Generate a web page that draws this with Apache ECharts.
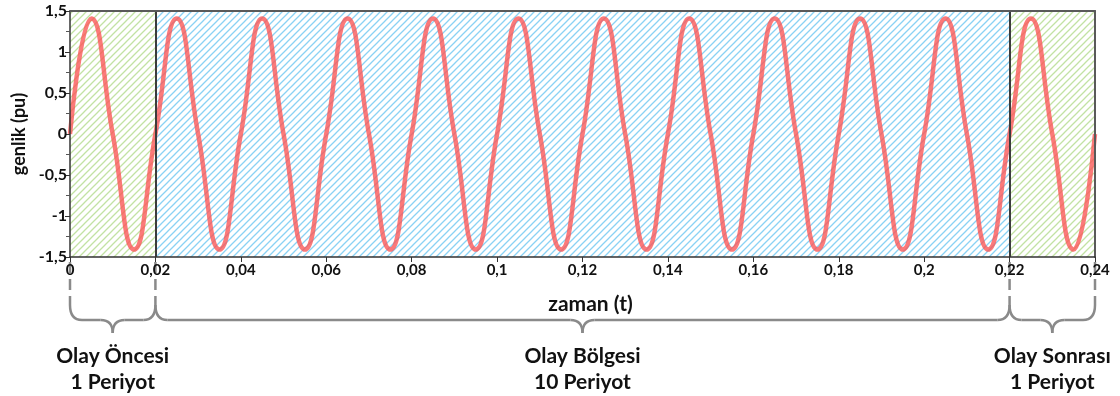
<!DOCTYPE html>
<html>
<head>
<meta charset="utf-8">
<script src="https://cdn.jsdelivr.net/npm/echarts@6/dist/echarts.min.js"></script>
<style>
  html, body { margin: 0; padding: 0; background: #fff; }
  #chart { width: 1120px; height: 396px; }
</style>
</head>
<body>
<div id="chart"></div>
<script>
// zaman (t) - quarter period points
var times = [
  0, 0.005, 0.01, 0.015, 0.02, 0.025, 0.03, 0.035, 0.04, 0.045,
  0.05, 0.055, 0.06, 0.065, 0.07, 0.075, 0.08, 0.085, 0.09, 0.095,
  0.1, 0.105, 0.11, 0.115, 0.12, 0.125, 0.13, 0.135, 0.14, 0.145,
  0.15, 0.155, 0.16, 0.165, 0.17, 0.175, 0.18, 0.185, 0.19, 0.195,
  0.2, 0.205, 0.21, 0.215, 0.22, 0.225, 0.23, 0.235, 0.24
];
// genlik (pu)
var amplitude = [
  0, 1.41, 0, -1.41, 0, 1.41, 0, -1.41, 0, 1.41,
  0, -1.41, 0, 1.41, 0, -1.41, 0, 1.41, 0, -1.41,
  0, 1.41, 0, -1.41, 0, 1.41, 0, -1.41, 0, 1.41,
  0, -1.41, 0, 1.41, 0, -1.41, 0, 1.41, 0, -1.41,
  0, 1.41, 0, -1.41, 0, 1.41, 0, -1.41, 0
];
// bölge sınırları
var regionBounds = [0, 0.02, 0.22, 0.24];
var regionNames = ['Olay Öncesi', 'Olay Bölgesi', 'Olay Sonrası'];
var regionPeriods = ['1 Periyot', '10 Periyot', '1 Periyot'];

var FONT = 'Lato, "Open Sans", sans-serif';

function comma(v) {
  return String(+Number(v).toFixed(2)).replace('.', ',');
}

// taralı desen
function hatch(color) {
  var s = 7;
  var c = document.createElement('canvas');
  c.width = s; c.height = s;
  var g = c.getContext('2d');
  g.strokeStyle = color;
  g.lineWidth = 1.3;
  g.beginPath();
  g.moveTo(0, s); g.lineTo(s, 0);
  g.moveTo(-1, 1); g.lineTo(1, -1);
  g.moveTo(s - 1, s + 1); g.lineTo(s + 1, s - 1);
  g.stroke();
  return c;
}
var greenFill = { image: hatch('#c2e2a4'), repeat: 'repeat' };
var blueFill = { image: hatch('#8ad2f4'), repeat: 'repeat' };

var points = times.map(function (t, i) { return [t, amplitude[i]]; });

var frameAxis = {
  show: true,
  z: 10,
  axisLine: { show: true, onZero: false, lineStyle: { color: '#5a5a5a', width: 2 } },
  axisTick: { show: false },
  axisLabel: { show: false },
  splitLine: { show: false }
};

var chart = echarts.init(document.getElementById('chart'));
chart.setOption({
  animation: false,
  grid: {
    left: 70,
    right: 25,
    top: 11,
    bottom: 139,
    outerBoundsMode: 'none',
    containLabel: false
  },
  xAxis: [{
    type: 'value',
    min: 0,
    max: 0.24,
    interval: 0.02,
    z: 10,
    name: 'zaman (t)',
    nameLocation: 'middle',
    nameGap: 37,
    nameTextStyle: {
      fontFamily: FONT, fontWeight: 'bold', fontSize: 21, color: '#111',
      padding: [0, 0, 0, 16]
    },
    axisLine: { onZero: false, lineStyle: { color: '#333', width: 1.5 } },
    axisTick: { length: 5, lineStyle: { color: '#333' } },
    axisLabel: {
      margin: 6,
      fontFamily: FONT, fontWeight: 'bold', fontSize: 15, color: '#111',
      formatter: comma
    },
    splitLine: { show: false }
  }, Object.assign({ type: 'value', position: 'top', min: 0, max: 0.24 }, frameAxis)],
  yAxis: [{
    type: 'value',
    min: -1.5,
    max: 1.5,
    interval: 0.5,
    z: 10,
    name: 'genlik (pu)',
    nameLocation: 'middle',
    nameGap: 42,
    nameRotate: 90,
    nameTextStyle: { fontFamily: FONT, fontWeight: 'bold', fontSize: 18, color: '#111' },
    axisLine: { show: true, onZero: false, lineStyle: { color: '#333', width: 1.5 } },
    axisTick: { show: true, length: 5, lineStyle: { color: '#333' } },
    minorTick: { show: true, splitNumber: 2, length: 4, lineStyle: { color: '#555' } },
    axisLabel: {
      margin: 3,
      fontFamily: FONT, fontWeight: 'bold', fontSize: 16, color: '#111',
      formatter: comma
    },
    splitLine: { show: false }
  }, Object.assign({ type: 'value', position: 'right', min: -1.5, max: 1.5 }, frameAxis)],
  series: [{
    type: 'line',
    data: points,
    smooth: 0.5,
    showSymbol: false,
    z: 3,
    lineStyle: { color: 'rgba(250,85,85,0.78)', width: 4.5 },
    markArea: {
      silent: true,
      data: [
        [{ xAxis: regionBounds[0], itemStyle: { color: greenFill } }, { xAxis: regionBounds[1] }],
        [{ xAxis: regionBounds[1], itemStyle: { color: blueFill } }, { xAxis: regionBounds[2] }],
        [{ xAxis: regionBounds[2], itemStyle: { color: greenFill } }, { xAxis: regionBounds[3] }]
      ]
    },
    markLine: {
      silent: true,
      symbol: 'none',
      label: { show: false },
      lineStyle: { color: '#3c3c3c', width: 2, type: 'solid' },
      data: [{ xAxis: regionBounds[1] }, { xAxis: regionBounds[2] }]
    }
  }]
});

// alt kısımdaki kesikli çizgiler, parantezler ve yazılar
var bottomY = chart.convertToPixel({ yAxisIndex: 0 }, -1.5);
var xs = regionBounds.map(function (b) { return chart.convertToPixel({ xAxisIndex: 0 }, b); });
var braceTop = bottomY + 48, braceMid = bottomY + 63, braceTip = bottomY + 76;
var gray = { stroke: '#8a8a8a', lineWidth: 2.5, fill: null };
var graphics = [];
xs.forEach(function (x) {
  graphics.push({
    type: 'line',
    shape: { x1: x, y1: bottomY + 5, x2: x, y2: braceTop },
    style: { stroke: '#8a8a8a', lineWidth: 2.5, lineDash: [11, 6] },
    z: 10
  });
});
function curve(x1, y1, cx, cy, x2, y2) {
  graphics.push({
    type: 'bezierCurve',
    shape: { x1: x1, y1: y1, cpx1: cx, cpy1: cy, x2: x2, y2: y2 },
    style: gray, z: 10
  });
}
function seg(x1, y1, x2, y2) {
  graphics.push({
    type: 'line',
    shape: { x1: x1, y1: y1, x2: x2, y2: y2 },
    style: gray, z: 10
  });
}
for (var i = 0; i < 3; i++) {
  var a = xs[i], b = xs[i + 1], m = (a + b) / 2, r = 12;
  curve(a, braceTop, a, braceMid, a + r, braceMid);
  seg(a + r, braceMid, m - r, braceMid);
  curve(m - r, braceMid, m, braceMid, m, braceTip);
  curve(m, braceTip, m, braceMid, m + r, braceMid);
  seg(m + r, braceMid, b - r, braceMid);
  curve(b - r, braceMid, b, braceMid, b, braceTop);
  graphics.push({
    type: 'text',
    x: m, y: bottomY + 112,
    style: {
      text: regionNames[i] + '\n' + regionPeriods[i],
      fill: '#111', font: 'bold 21px ' + FONT,
      align: 'center', verticalAlign: 'middle', lineHeight: 26
    },
    z: 10
  });
}
chart.setOption({ graphic: graphics });
</script>
</body>
</html>
